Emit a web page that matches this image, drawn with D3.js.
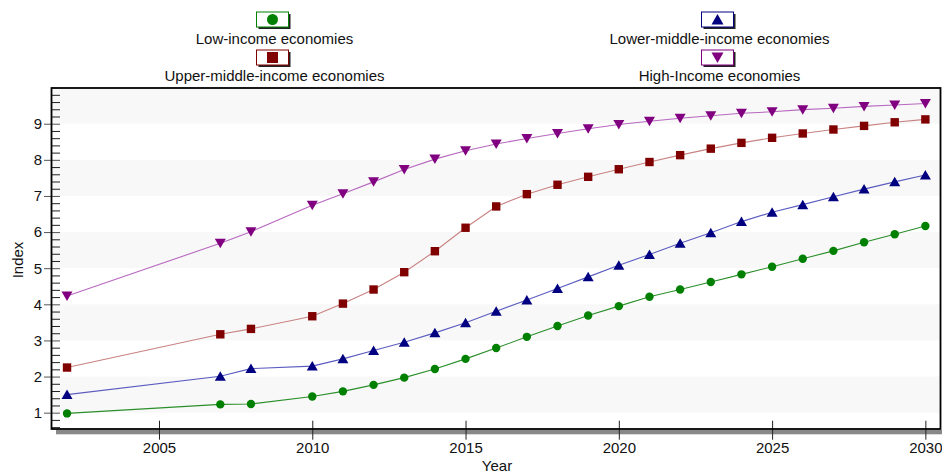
<!DOCTYPE html>
<html><head><meta charset="utf-8">
<script src="https://cdn.jsdelivr.net/npm/d3@7"></script>
<style>
body{margin:0;background:#fff;}
svg{display:block;font-family:"Liberation Sans",Arial,sans-serif;}
</style>
</head><body>
<svg id="c" width="942" height="474"></svg>
<script>
const years = [2002,2007,2008,2010,2011,2012,2013,2014,2015,2016,2017,2018,2019,2020,2021,2022,2023,2024,2025,2026,2027,2028,2029,2030];
const lowIncome   = [0.98,1.23,1.24,1.45,1.59,1.77,1.97,2.21,2.49,2.79,3.10,3.40,3.69,3.95,4.21,4.41,4.62,4.83,5.04,5.26,5.48,5.72,5.94,6.17];
const lowerMiddle = [1.50,2.01,2.22,2.29,2.49,2.72,2.95,3.21,3.49,3.81,4.12,4.44,4.76,5.08,5.38,5.69,5.98,6.29,6.55,6.76,6.98,7.19,7.39,7.58];
const upperMiddle = [2.25,3.17,3.32,3.67,4.02,4.41,4.89,5.47,6.12,6.71,7.05,7.31,7.53,7.74,7.94,8.13,8.31,8.47,8.61,8.73,8.84,8.94,9.04,9.12];
const highIncome  = [4.23,5.69,6.01,6.74,7.06,7.39,7.73,8.02,8.25,8.44,8.59,8.73,8.86,8.98,9.07,9.15,9.22,9.29,9.33,9.39,9.43,9.48,9.52,9.56];
const seriesNames = ["Low-income economies","Lower-middle-income economies","Upper-middle-income economies","High-Income economies"];
const xTickValues = [2005,2010,2015,2020,2025,2030];
const yTickValues = [1,2,3,4,5,6,7,8,9];
const xTitle = "Year";
const yTitle = "Index";

const series = [
  {name: seriesNames[0], values: lowIncome,   marker: "circle", color: "#008000", line: "#2a8f2a"},
  {name: seriesNames[1], values: lowerMiddle, marker: "up",     color: "#000080", line: "#5c5cc0"},
  {name: seriesNames[2], values: upperMiddle, marker: "square", color: "#800000", line: "#c98282"},
  {name: seriesNames[3], values: highIncome,  marker: "down",   color: "#800080", line: "#b868c0"}
];

const svg = d3.select("#c");
const L = 51.7, R = 940.7, T = 87.6, B = 429.3;
const x = d3.scaleLinear().domain([2001.5, 2030.5]).range([L, R]);
const y = d3.scaleLinear().domain([0.54, 10]).range([B, T]);

// alternating bands
svg.append("g").selectAll("rect").data([1,3,5,7,9]).join("rect")
  .attr("x", L).attr("width", R - L)
  .attr("y", d => y(d + 1)).attr("height", d => y(d) - y(d + 1))
  .attr("fill", "#f8f8f8");

// bottom shadow
svg.append("rect").attr("x", 56).attr("y", 430).attr("width", 886).attr("height", 4.3).attr("fill", "#888");

// minor y ticks
const minor = d3.range(6, 100, 2).map(v => v / 10).filter(v => Math.abs(v - Math.round(v)) > 1e-6);
svg.append("g").attr("transform", `translate(60,0)`)
  .call(d3.axisLeft(y).tickValues(minor).tickSizeInner(8).tickSizeOuter(0).tickFormat(""))
  .call(g => g.select(".domain").remove())
  .call(g => g.selectAll("line").attr("stroke", "#222"));

// major y ticks
svg.append("g").attr("transform", `translate(60,0)`)
  .call(d3.axisLeft(y).tickValues(yTickValues).tickSizeInner(16).tickSizeOuter(0).tickPadding(2).tickFormat(d3.format("d")))
  .call(g => g.select(".domain").remove())
  .call(g => g.selectAll("line").attr("stroke", "#555"))
  .call(g => g.selectAll("text").attr("font-size", 15).attr("fill", "#111").attr("font-family", "Liberation Sans, Arial, sans-serif"));

// x ticks
svg.append("g").attr("transform", `translate(0,420.7)`)
  .call(d3.axisBottom(x).tickValues(xTickValues).tickSizeInner(19).tickSizeOuter(0).tickPadding(3).tickFormat(d3.format("d")))
  .call(g => g.select(".domain").remove())
  .call(g => g.selectAll("line").attr("stroke", "#222"))
  .call(g => g.selectAll("text").attr("font-size", 15).attr("fill", "#111").attr("font-family", "Liberation Sans, Arial, sans-serif"));

// frame
svg.append("rect").attr("x", 51.5).attr("y", 88).attr("width", 889).attr("height", 341)
  .attr("fill", "none").attr("stroke", "#000").attr("stroke-width", 1.8);

// markers
const markerShapes = {
  circle: d3.symbol(d3.symbolCircle, Math.PI * 4.2 * 4.2)(),
  square: "M-4.2,-4.2H4.2V4.2H-4.2Z",
  up: "M-5.5,4.5L5.5,4.5L0,-5Z",
  down: "M-5.5,-4.5L5.5,-4.5L0,5Z"
};

const line = d3.line().x((d, i) => x(years[i])).y(d => y(d));
const plot = svg.append("g");
series.forEach(s => {
  plot.append("path").attr("d", line(s.values)).attr("fill", "none")
    .attr("stroke", s.line).attr("stroke-width", 1.1);
});
series.forEach(s => {
  plot.append("g").selectAll("path").data(s.values).join("path")
    .attr("transform", (d, i) => `translate(${x(years[i])},${y(d)})`)
    .attr("d", markerShapes[s.marker])
    .attr("fill", s.color);
});

// legend
const legendPos = [
  {cx: 274.5, by: 12, ty: 44.3},
  {cx: 719.5, by: 12, ty: 44.3},
  {cx: 274.5, by: 50, ty: 81},
  {cx: 719.5, by: 50, ty: 81}
];
const legendShapes = {
  circle: d3.symbol(d3.symbolCircle, Math.PI * 5.5 * 5.5)(),
  square: "M-5.5,-5.5H5.5V5.5H-5.5Z",
  up: "M-6,5L6,5L0,-5.5Z",
  down: "M-6,-5L6,-5L0,5.5Z"
};
series.forEach((s, i) => {
  const p = legendPos[i];
  const g = svg.append("g");
  const bx = p.cx - 18, bw = 32, bh = 15;
  g.append("rect").attr("x", bx + 2).attr("y", p.by + 2).attr("width", bw).attr("height", bh).attr("fill", "#222");
  g.append("rect").attr("x", bx).attr("y", p.by).attr("width", bw).attr("height", bh)
    .attr("fill", "#fff").attr("stroke", s.color).attr("stroke-width", 1);
  g.append("path").attr("transform", `translate(${bx + bw / 2},${p.by + bh / 2})`)
    .attr("d", legendShapes[s.marker]).attr("fill", s.color);
  g.append("text").attr("x", p.cx).attr("y", p.ty).attr("text-anchor", "middle")
    .attr("font-size", 15).attr("fill", "#111").text(s.name);
});

// axis titles
svg.append("text").attr("x", 497).attr("y", 471).attr("text-anchor", "middle")
  .attr("font-size", 15).attr("fill", "#111").text(xTitle);
svg.append("text").attr("transform", "translate(22.5,260) rotate(-90)").attr("text-anchor", "middle")
  .attr("font-size", 15).attr("fill", "#111").text(yTitle);
</script>
</body></html>
